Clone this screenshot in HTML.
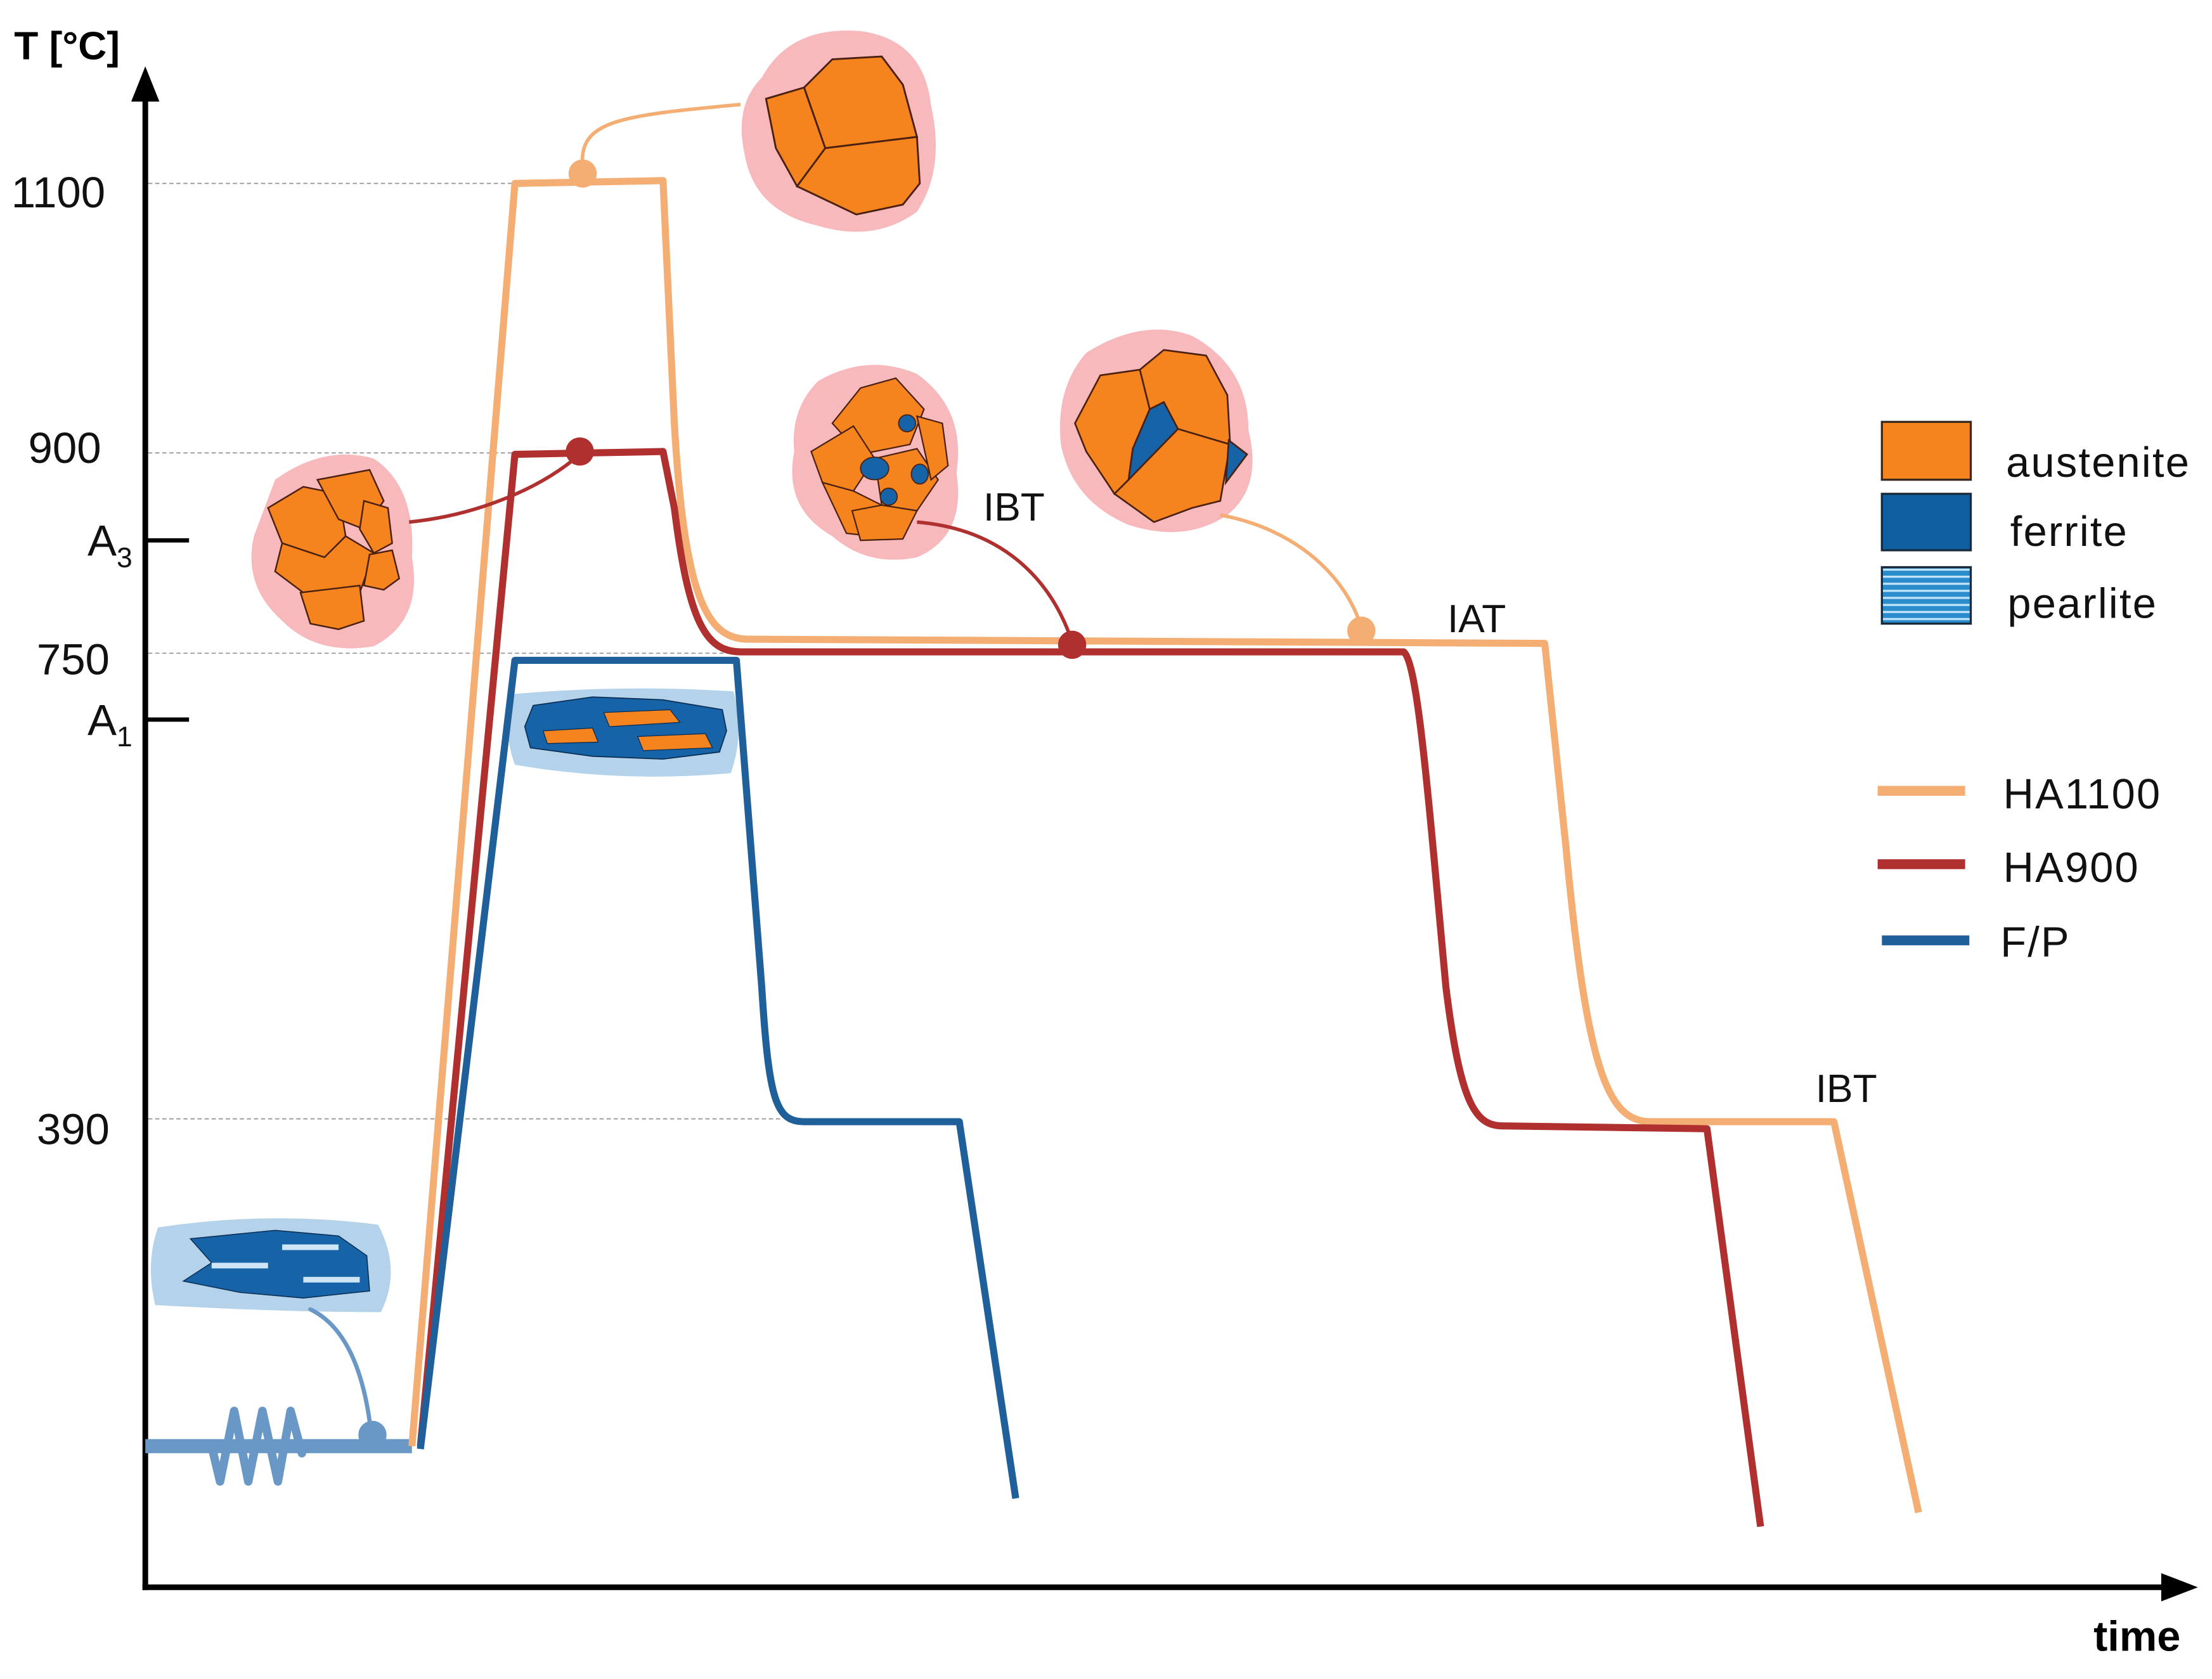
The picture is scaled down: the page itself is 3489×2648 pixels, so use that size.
<!DOCTYPE html>
<html><head><meta charset="utf-8"><style>html,body{margin:0;padding:0;background:#fff}svg{display:block}</style></head>
<body>
<svg width="3489" height="2648" viewBox="0 0 1568 1190" xmlns="http://www.w3.org/2000/svg" font-family="Liberation Sans, sans-serif">
<defs>
<pattern id="pl" width="6" height="5" patternUnits="userSpaceOnUse"><rect width="6" height="5" fill="#2a8ccc"/><rect y="3" width="6" height="1.5" fill="#bfe3f7"/></pattern>
</defs>
<rect width="1568" height="1190" fill="#fff"/>
<g stroke="#999" stroke-width="0.8" stroke-dasharray="3,2">
<line x1="105" y1="130" x2="365" y2="130"/>
<line x1="105" y1="321" x2="410" y2="321"/>
<line x1="105" y1="463" x2="520" y2="463"/>
<line x1="105" y1="793" x2="555" y2="793"/>
</g>
<line x1="103" y1="70" x2="103" y2="1127" stroke="#000" stroke-width="4"/>
<polygon points="103,47 93,72 113,72" fill="#000"/>
<line x1="101" y1="1125" x2="1535" y2="1125" stroke="#000" stroke-width="4"/>
<polygon points="1558,1125 1532,1115 1532,1135" fill="#000"/>
<line x1="103" y1="383" x2="134" y2="383" stroke="#000" stroke-width="3"/>
<line x1="103" y1="510" x2="134" y2="510" stroke="#000" stroke-width="3"/>
<text x="10" y="42" font-size="28" font-weight="bold">T [°C]</text>
<text x="1484" y="1170" font-size="30" font-weight="bold">time</text>
<g font-size="31" fill="#111">
<text x="8" y="147">1100</text>
<text x="20" y="328">900</text>
<text x="62" y="394">A<tspan font-size="20" dy="8">3</tspan></text>
<text x="26" y="478">750</text>
<text x="62" y="521">A<tspan font-size="20" dy="8">1</tspan></text>
<text x="26" y="811">390</text>
</g>
<path d="M540,55 Q560,18 610,22 Q655,28 660,75 Q670,120 650,150 Q620,172 580,160 Q535,150 528,110 Q520,75 540,55Z" fill="#f7b9bb"/>
<g fill="#f5841f" stroke="#4a2010" stroke-width="1.3">
<polygon points="543,70 570,62 585,105 565,132 550,105"/>
<polygon points="570,62 590,42 625,40 640,60 650,97 585,105"/>
<polygon points="585,105 650,97 652,130 640,145 607,152 565,132"/>
</g>
<path d="M195,340 Q230,315 265,325 Q295,345 292,395 Q300,440 265,458 Q225,465 200,440 Q172,415 180,380Z" fill="#f7b9bb"/>
<g fill="#f5841f" stroke="#4a2010" stroke-width="1.1">
<polygon points="190,360 215,345 240,350 245,380 230,395 200,385"/>
<polygon points="225,340 262,333 272,355 258,375 240,368"/>
<polygon points="258,355 275,360 278,385 265,392 255,375"/>
<polygon points="200,385 230,395 245,380 265,392 255,420 215,420 195,405"/>
<polygon points="262,393 278,390 283,410 272,418 258,415"/>
<polygon points="213,420 255,415 258,440 240,446 220,442"/>
</g>
<path d="M580,270 Q615,250 650,265 Q685,290 678,335 Q685,380 650,395 Q615,402 590,380 Q555,360 563,320 Q560,290 580,270Z" fill="#f7b9bb"/>
<g fill="#f5841f" stroke="#4a2010" stroke-width="1">
<polygon points="590,300 610,275 635,268 655,290 645,315 610,322"/>
<polygon points="575,320 605,302 620,325 605,348 583,342"/>
<polygon points="620,325 650,318 665,340 650,362 625,358"/>
<polygon points="583,342 605,348 625,358 618,380 600,378"/>
<polygon points="650,295 668,300 672,330 660,340"/>
<polygon points="604,362 625,358 650,362 640,382 610,383"/>
</g>
<g fill="#1663a8" stroke="#4a2010" stroke-width="0.8">
<ellipse cx="620" cy="332" rx="10" ry="8"/><ellipse cx="643" cy="300" rx="6" ry="6"/><ellipse cx="652" cy="336" rx="6" ry="7"/><ellipse cx="630" cy="352" rx="6" ry="6"/>
</g>
<path d="M770,250 Q810,225 845,238 Q885,260 885,305 Q895,345 870,365 Q840,385 800,372 Q760,355 752,315 Q748,275 770,250Z" fill="#f7b9bb"/>
<g stroke="#4a2010" stroke-width="1.2">
<polygon points="780,266 808,262 815,290 803,318 800,340 790,350 770,320 762,300" fill="#f5841f"/>
<polygon points="808,262 825,248 855,252 870,280 872,315 835,304 825,285 815,290" fill="#f5841f"/>
<polygon points="800,340 835,304 872,315 865,355 845,360 818,370 790,350" fill="#f5841f"/>
<polygon points="815,290 825,285 835,304 800,340 803,318" fill="#1663a8"/>
<polygon points="871,312 884,322 869,342" fill="#1663a8"/>
</g>
<path d="M363,492 Q440,485 520,490 Q528,520 518,548 Q440,555 365,542 Q356,518 363,492Z" fill="#b4d3ea"/>
<g fill="#1663a8" stroke="#0b2e55" stroke-width="0.8">
<polygon points="378,500 420,494 470,496 512,503 515,518 510,533 470,538 420,536 376,530 372,515"/>
</g>
<g fill="#f5841f" stroke="#0b2e55" stroke-width="0.6">
<polygon points="428,505 475,503 482,512 432,515"/><polygon points="385,518 420,516 424,526 388,527"/><polygon points="452,522 500,520 505,530 456,532"/>
</g>
<path d="M112,870 Q190,858 268,868 Q285,900 270,930 Q200,930 110,925 Q103,895 112,870Z" fill="#b4d3ea"/>
<g fill="#1663a8" stroke="#0b2e55" stroke-width="0.7">
<polygon points="135,878 195,872 240,876 260,890 262,915 215,920 170,916 130,908 150,895"/>
</g>
<g fill="#cfe4f4"><rect x="200" y="882" width="40" height="4"/><rect x="150" y="895" width="40" height="4"/><rect x="215" y="905" width="40" height="4"/></g>
<g stroke="#6a98c6" fill="none" stroke-linecap="round" stroke-linejoin="round">
<line x1="103" y1="1025" x2="292" y2="1025" stroke-width="10" stroke-linecap="butt"/>
<polyline points="150,1025 156,1050 166,1000 176,1050 186,1000 197,1050 206,1000 214,1030" stroke-width="6"/>
<path d="M220,928 Q255,945 263,1015" stroke-width="3"/>
</g>
<circle cx="264" cy="1017" r="10" fill="#6a98c6"/>
<g fill="none" stroke-width="5" stroke-linejoin="round">
<path d="M292,1025 L365,130 L470,128 L478,300 C485,420 500,453 530,453 L1095,456 L1110,600 C1125,760 1140,795 1170,795 L1300,795 L1360,1072" stroke="#f4ad72"/>
<path d="M298,1025 L365,322 L470,320 L478,360 C488,440 500,462 525,462 L995,462 C1005,470 1012,560 1025,700 C1035,780 1045,798 1065,798 L1210,800 L1248,1082" stroke="#b03030"/>
<path d="M298,1027 L365,468 L522,468 L540,700 C545,780 550,795 570,795 L680,795 L720,1062" stroke="#1f5f9a"/>
</g>
<g fill="none" stroke-width="2.5">
<path d="M413,118 C410,85 440,82 525,74" stroke="#f4ad72"/>
<path d="M290,370 C340,365 385,345 411,322" stroke="#b03030"/>
<path d="M650,370 C710,375 745,410 760,455" stroke="#b03030"/>
<path d="M865,365 C920,375 955,410 965,445" stroke="#f4ad72"/>
</g>
<circle cx="413" cy="123" r="10" fill="#f4ad72"/>
<circle cx="411" cy="320" r="10" fill="#b03030"/>
<circle cx="760" cy="457" r="10" fill="#b03030"/>
<circle cx="965" cy="447" r="10" fill="#f4ad72"/>
<g font-size="28" fill="#111">
<text x="697" y="369">IBT</text>
<text x="1026" y="448">IAT</text>
<text x="1287" y="781">IBT</text>
</g>
<rect x="1334" y="299" width="63" height="41" fill="#f5841f" stroke="#3a2a20" stroke-width="1.5"/>
<rect x="1334" y="350" width="63" height="40" fill="#0f5fa0" stroke="#1a2a3a" stroke-width="1.5"/>
<rect x="1334" y="402" width="63" height="40" fill="url(#pl)" stroke="#1a2a3a" stroke-width="1.5"/>
<g font-size="30" fill="#111" letter-spacing="1">
<text x="1422" y="338">austenite</text>
<text x="1425" y="387">ferrite</text>
<text x="1423" y="438">pearlite</text>
<text x="1420" y="573">HA1100</text>
<text x="1420" y="625">HA900</text>
<text x="1418" y="678">F/P</text>
</g>
<rect x="1331" y="557" width="62" height="7" fill="#f4ad72"/>
<rect x="1331" y="609" width="62" height="7" fill="#b03030"/>
<rect x="1334" y="663" width="62" height="7" fill="#1f5f9a"/>
</svg>
</body></html>
